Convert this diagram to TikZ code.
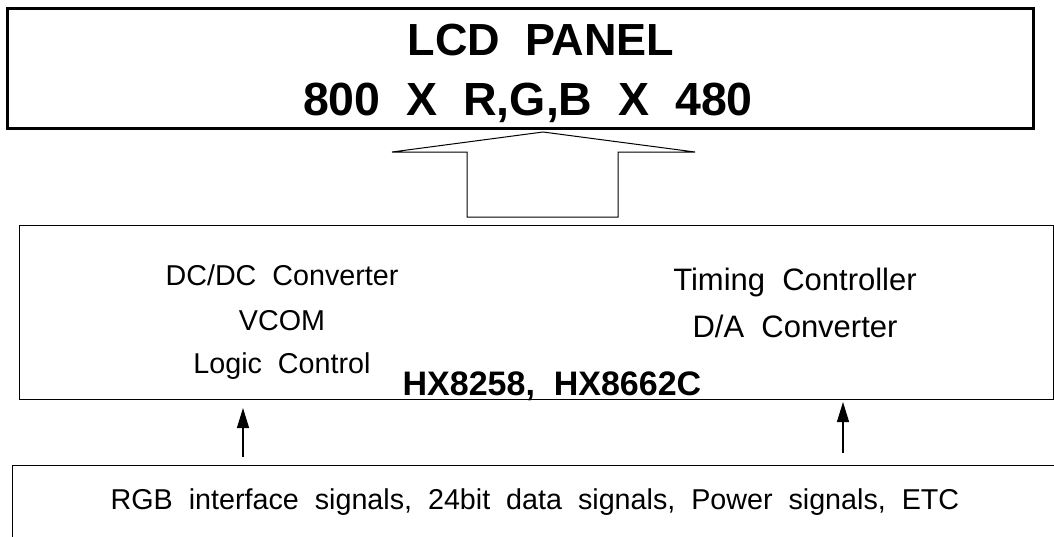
\documentclass[tikz,border=0pt]{standalone}
\usepackage{fontspec}
\setmainfont{Liberation Sans}
\usetikzlibrary{arrows.meta}
\newcommand\fs[1]{\fontsize{#1}{#1}\selectfont}
\begin{document}
\begin{tikzpicture}[x=1pt,y=-1pt,
  panelbox/.style={draw=black,line width=3pt,inner sep=0pt},
  chipbox/.style={draw=black,line width=1pt,inner sep=0pt},
  inbox/.style={draw=black,line width=1pt,inner sep=0pt},
  bigtxt/.style={font=\bfseries\fs{45},anchor=base,inner sep=0pt},
  ltxt/.style={font=\fs{28.7},anchor=base,inner sep=0pt},
  rtxt/.style={font=\fs{31},anchor=base,inner sep=0pt},
  sig/.style={line width=1.3pt,-{Triangle[width=12pt,length=20pt]}},
  bigarrow/.style={draw=black,line width=1pt,line join=miter}]
\useasboundingbox (0,0) rectangle (1054,536);
\clip (0,0) rectangle (1054,536);
% LCD panel
\node[panelbox,minimum width=1026pt,minimum height=120pt] (panel) at (520,68) {};
\node[bigtxt] (t1) at (541,55) {LCD\ \ PANEL};
\node[bigtxt,font=\bfseries\fs{46.5}] (t2) at (528,115) {800\ \ X\ \ R,G,B\ \ X\ \ 480};
% big hollow arrow
\draw[bigarrow] (392,152) -- (543,132) -- (695,152) -- (618,152) -- (618,217)
  -- (467,217) -- (467,152) -- cycle;
% chip box
\node[chipbox,minimum width=1034pt,minimum height=174pt] (chip) at (536,312) {};
\node[ltxt] (l1) at (282,285) {DC/DC\ \ Converter};
\node[ltxt] (l2) at (282,330) {VCOM};
\node[ltxt] (l3) at (282,373) {Logic\ \ Control};
\node[rtxt] (r1) at (795,290) {Timing\ \ Controller};
\node[rtxt] (r2) at (795,337) {D/A\ \ Converter};
\node[font=\bfseries\fs{34},anchor=base,inner sep=0pt] (ic) at (552,395) {HX8258,\ \ HX8662C};
% input box
\node[inbox,minimum width=1058pt,minimum height=95pt] (inp) at (541,512.5) {};
\node[ltxt] (it) at (535,509) {RGB\ \ interface\ \ signals,\ \ 24bit\ \ data\ \ signals,\ \ Power\ \ signals,\ \ ETC};
% signal arrows
\coordinate (a1s) at (243,457);
\coordinate (a1e) at (243,408);
\coordinate (a2s) at (843,453);
\coordinate (a2e) at (843,402);
\draw[sig] (a1s) -- (a1e);
\draw[sig] (a2s) -- (a2e);
\end{tikzpicture}
\end{document}
